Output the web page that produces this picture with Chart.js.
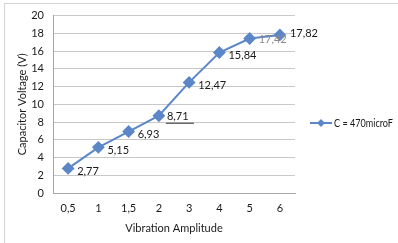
<!DOCTYPE html>
<html>
<head>
<meta charset="utf-8">
<script src="https://cdn.jsdelivr.net/npm/chart.js@4/dist/chart.umd.min.js"></script>
<style>
  html, body { margin: 0; padding: 0; background: #fff; }
  #wrap { position: relative; width: 398px; height: 243px; overflow: hidden; }
  #frame { position: absolute; left: 4px; top: 3px; width: 400px; height: 250px; border: 1px solid #d4d4d4; box-sizing: border-box; }
  canvas { position: absolute; left: 0; top: 0; }
</style>
</head>
<body>
<div id="wrap">
  <div id="frame"></div>
  <canvas id="myChart" width="398" height="243"></canvas>
</div>
<script>
// chart values
var amplitudes = ["0,5", "1", "1,5", "2", "3", "4", "5", "6"];
var voltages = [2.77, 5.15, 6.93, 8.71, 12.47, 15.84, 17.42, 17.82];
var valueLabels = ["2,77", "5,15", "6,93", "8,71", "12,47", "15,84", "17,42", "17,82"];
var seriesName = "C = 470microF";

var blue = "#5b87c9";
var fontFam = "Lato, 'Open Sans', sans-serif";

// labels next to each point
var pointLabels = {
  id: "pointLabels",
  afterDatasetsDraw: function(chart) {
    var ctx = chart.ctx;
    var meta = chart.getDatasetMeta(0);
    ctx.save();
    ctx.font = "11px " + fontFam;
    ctx.textBaseline = "middle";
    ctx.textAlign = "left";
    meta.data.forEach(function(pt, i) {
      var dx = 9, dy = 3;
      ctx.fillStyle = "#1a1a1a";
      if (i == 6) { dx = 9; dy = 1; ctx.fillStyle = "#8a8a8a"; }
      if (i == 7) { dx = 10; dy = -1; }
      if (i == 3) { dx = 8; dy = 1; }
      ctx.fillText(valueLabels[i], pt.x + dx, pt.y + dy);
      if (i == 3) {
        // short rule under this label, as in the original
        ctx.strokeStyle = "#333";
        ctx.lineWidth = 1;
        ctx.beginPath();
        ctx.moveTo(pt.x + 7, pt.y + 7.5);
        ctx.lineTo(pt.x + 35, pt.y + 7.5);
        ctx.stroke();
      }
    });
    ctx.restore();
  }
};

// legend with line and diamond, to the right
var sideLegend = {
  id: "sideLegend",
  afterDraw: function(chart) {
    var ctx = chart.ctx;
    var y = 123, x0 = 310, x1 = 332;
    ctx.save();
    ctx.strokeStyle = blue;
    ctx.fillStyle = blue;
    ctx.lineWidth = 2;
    ctx.beginPath();
    ctx.moveTo(x0, y);
    ctx.lineTo(x1, y);
    ctx.stroke();
    ctx.beginPath();
    ctx.moveTo(321, y - 4);
    ctx.lineTo(325, y);
    ctx.lineTo(321, y + 4);
    ctx.lineTo(317, y);
    ctx.closePath();
    ctx.fill();
    ctx.fillStyle = "#1a1a1a";
    ctx.font = "11px " + fontFam;
    ctx.textBaseline = "middle";
    var txt = chart.data.datasets[0].label;
    var w = ctx.measureText(txt).width;
    var k = Math.min(1, 59 / w);
    ctx.translate(334, y);
    ctx.scale(k, 1);
    ctx.fillText(txt, 0, 0);
    ctx.restore();
  }
};

var ctx = document.getElementById("myChart").getContext("2d");
var myNewChart = new Chart(ctx, {
  type: "line",
  data: {
    labels: amplitudes,
    datasets: [{
      label: seriesName,
      data: voltages,
      borderColor: blue,
      backgroundColor: blue,
      borderWidth: 2,
      pointStyle: "rectRot",
      pointRadius: 5,
      pointHoverRadius: 5,
      tension: 0
    }]
  },
  options: {
    responsive: false,
    animation: false,
    layout: { padding: { left: 16, right: 103, top: 15, bottom: 8 } },
    plugins: {
      legend: { display: false },
      tooltip: { enabled: false }
    },
    scales: {
      x: {
        offset: true,
        grid: { display: false, drawTicks: false },
        border: { color: "#a6a6a6" },
        ticks: { color: "#1a1a1a", font: { family: fontFam, size: 11 }, padding: 9, maxRotation: 0 },
        title: { display: true, text: "Vibration Amplitude", color: "#1a1a1a", font: { family: fontFam, size: 11 }, padding: { top: 3, bottom: 0 } },
        afterFit: function(s) { s.height = 42; }
      },
      y: {
        min: 0,
        max: 20,
        grid: { color: "#c8c8c8", drawTicks: false },
        border: { color: "#a6a6a6" },
        ticks: { stepSize: 2, color: "#1a1a1a", font: { family: fontFam, size: 11 }, padding: 9 },
        title: { display: true, text: "Capacitor Voltage (V)", color: "#1a1a1a", font: { family: fontFam, size: 11 }, padding: { top: 0, bottom: 2 } },
        afterFit: function(s) { s.width = 37; }
      }
    }
  },
  plugins: [pointLabels, sideLegend]
});
</script>
</body>
</html>
